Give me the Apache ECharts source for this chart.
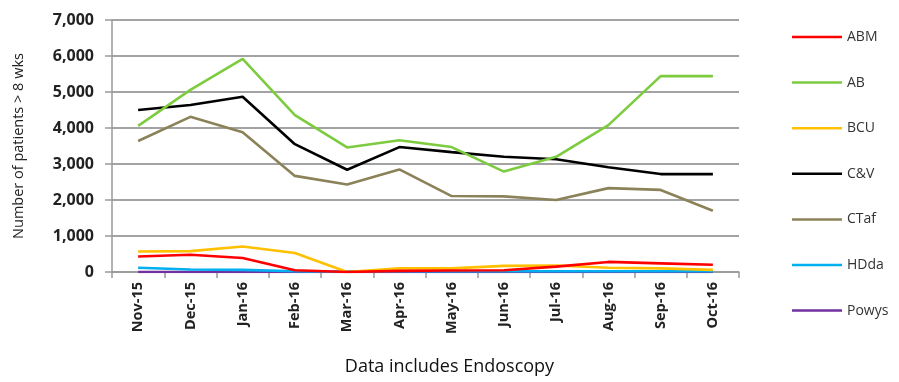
<!DOCTYPE html>
<html>
<head>
<meta charset="utf-8">
<script src="https://cdn.jsdelivr.net/npm/echarts@6/dist/echarts.min.js"></script>
<style>
  html, body { margin: 0; padding: 0; background: #fff; }
  #chart { width: 899px; height: 382px; }
</style>
</head>
<body>
<div id="chart"></div>
<script>
// Months on the category axis
const months = ['Nov-15', 'Dec-15', 'Jan-16', 'Feb-16', 'Mar-16', 'Apr-16', 'May-16', 'Jun-16', 'Jul-16', 'Aug-16', 'Sep-16', 'Oct-16'];

// Patients waiting over 8 weeks, per health board
const abm   = [430, 480, 390, 50, 0, 30, 40, 50, 150, 280, 240, 200];
const ab    = [4060, 5060, 5920, 4360, 3460, 3660, 3470, 2790, 3200, 4080, 5440, 5440];
const bcu   = [570, 580, 710, 530, 0, 100, 100, 170, 180, 120, 100, 60];
const cv    = [4500, 4640, 4870, 3550, 2840, 3470, 3330, 3200, 3130, 2910, 2720, 2720];
const ctaf  = [3640, 4310, 3880, 2670, 2430, 2850, 2110, 2100, 2000, 2330, 2280, 1700];
const hdda  = [120, 70, 60, 20, 10, 20, 20, 20, 20, 20, 20, 20];
const powys = [0, 0, 0, 0, 0, 0, 0, 0, 0, 0, 0, 0];

const seriesNames = ['ABM', 'AB', 'BCU', 'C&V', 'CTaf', 'HDda', 'Powys'];
const seriesData = [abm, ab, bcu, cv, ctaf, hdda, powys];
const seriesColors = ['#ff0000', '#7dcb3f', '#ffc000', '#000000', '#8c8259', '#00b0f0', '#7030a0'];

// Y axis ticks
const yMin = 0, yMax = 7000, yStep = 1000;

const chart = echarts.init(document.getElementById('chart'), null, { renderer: 'canvas' });

const font = 'Open Sans, Liberation Sans, sans-serif';

chart.setOption({
  animation: false,
  backgroundColor: '#ffffff',
  grid: { left: 112, right: 160, top: 20, bottom: 110, containLabel: false },
  legend: {
    orient: 'vertical',
    left: 787,
    top: 25,
    itemWidth: 50,
    itemHeight: 16,
    itemGap: 31.6,
    icon: 'path://M0,7 L50,7 L50,9.5 L0,9.5 Z',
    textStyle: { fontFamily: font, fontSize: 14, color: '#333', padding: [0, 0, 0, 0] },
    data: seriesNames
  },
  xAxis: {
    type: 'category',
    data: months,
    boundaryGap: true,
    axisLine: { lineStyle: { color: '#9a9a9a', width: 1.5 } },
    axisTick: { show: true, alignWithLabel: false, length: 6, lineStyle: { color: '#9a9a9a', width: 1.5 } },
    axisLabel: { rotate: 90, interval: 0, margin: 10, fontFamily: font, fontSize: 14.5, fontWeight: 'bold', color: '#222' },
    splitLine: { show: false }
  },
  yAxis: {
    type: 'value',
    min: yMin,
    max: yMax,
    interval: yStep,
    name: 'Number of patients > 8 wks',
    nameLocation: 'middle',
    nameGap: 86,
    nameRotate: 90,
    nameTextStyle: { fontFamily: font, fontSize: 14.5, color: '#222' },
    axisLine: { show: true, lineStyle: { color: '#9a9a9a', width: 1.5 } },
    axisTick: { show: true, length: 7, lineStyle: { color: '#9a9a9a', width: 1.5 } },
    axisLabel: {
      margin: 18,
      fontFamily: font, fontSize: 16, fontWeight: 'bold', color: '#222',
      formatter: v => v.toLocaleString('en-US')
    },
    splitLine: { show: true, lineStyle: { color: '#a3a3a3', width: 2 } }
  },
  graphic: [{
    type: 'text',
    left: 'center',
    top: 358,
    style: { text: 'Data includes Endoscopy', fontFamily: font, fontSize: 18, fill: '#111' },
    x: -15
  }],
  series: seriesNames.map((name, i) => ({
    name: name,
    type: 'line',
    data: seriesData[i],
    symbol: 'none',
    color: seriesColors[i],
    lineStyle: { width: 2.6, color: seriesColors[i] },
    z: 10 - i
  }))
});
</script>
</body>
</html>
